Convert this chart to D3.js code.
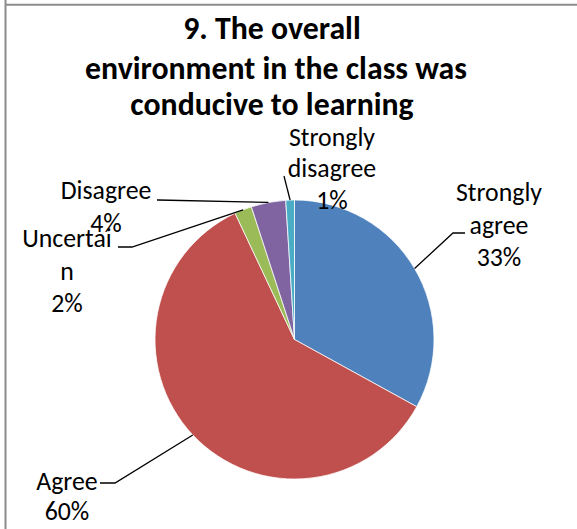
<!DOCTYPE html>
<html>
<head>
<meta charset="utf-8">
<script src="https://cdn.jsdelivr.net/npm/d3@7/dist/d3.min.js"></script>
<style>
  html, body { margin: 0; padding: 0; background: #fff; }
  svg { display: block; }
</style>
</head>
<body>
<script>
// ---- data ----
const titleLines = ["9. The overall", "environment in the class was", "conducive to learning"];
const categories = ["Strongly agree", "Agree", "Uncertain", "Disagree", "Strongly disagree"];
const values = [33, 60, 2, 4, 1];
const labelLines = [["Strongly", "agree"], ["Agree"], ["Uncertai", "n"], ["Disagree"], ["Strongly", "disagree"]];
const colors = ["#4F81BD", "#C0504D", "#9BBB59", "#8064A2", "#4BACC6"];

// ---- layout ----
const W = 577, H = 529;
const cx = 294.5, cy = 339.5, R = 139.5;
const FONT = "Carlito, Calibri, Lato, sans-serif";
const titleLayout = [{x: 272, y: 39}, {x: 276, y: 78.5}, {x: 272, y: 115}];
// label centre x, first baseline y, leader elbow and end points
const labelLayout = [
  {x: 499, y: 201, lh: 32.5, elbow: [453, 233], end: [465, 233]},
  {x: 67,  y: 490, lh: 30,   elbow: [115, 483], end: [100, 483]},
  {x: 67,  y: 247, lh: 32.5, elbow: [132, 247], end: [118, 247]},
  {x: 106, y: 199, lh: 33,   elbow: [158, 200], end: [157, 200]},
  {x: 332, y: 145.5, lh: 31.5, elbow: [284, 176], end: [284, 176]}
];

const svg = d3.select("body").append("svg").attr("width", W).attr("height", H);

// frame lines
svg.append("line").attr("x1", 5.5).attr("x2", 5.5).attr("y1", 0).attr("y2", H)
  .attr("stroke", "#8c8c8c").attr("stroke-width", 2);
svg.append("line").attr("x1", 5).attr("x2", W).attr("y1", 4.8).attr("y2", 4.8)
  .attr("stroke", "#8c8c8c").attr("stroke-width", 2);

// title
svg.append("g").selectAll("text").data(titleLines).join("text")
  .attr("x", (d, i) => titleLayout[i].x).attr("y", (d, i) => titleLayout[i].y)
  .attr("text-anchor", "middle").attr("font-family", FONT).attr("font-weight", "bold")
  .attr("font-size", 31.8).attr("fill", "#000").text(d => d);

// pie
const total = d3.sum(values);
const pie = d3.pie().sort(null).value(d => d)(values);
const arc = d3.arc().innerRadius(0).outerRadius(R);
const g = svg.append("g").attr("transform", `translate(${cx},${cy})`);
g.selectAll("path").data(pie).join("path")
  .attr("d", arc).attr("fill", (d, i) => colors[i])
  .attr("stroke", "#fff").attr("stroke-width", 0.75);

// leader lines
const pct = d3.format(".0%");
pie.forEach((d, i) => {
  const a = (d.startAngle + d.endAngle) / 2;
  const p0 = [cx + R * Math.sin(a), cy - R * Math.cos(a)];
  const L = labelLayout[i];
  svg.append("polyline")
    .attr("points", [p0, L.elbow, L.end].map(p => p.join(",")).join(" "))
    .attr("fill", "none").attr("stroke", "#000").attr("stroke-width", 1.3);
});

// labels
pie.forEach((d, i) => {
  const L = labelLayout[i];
  const lines = labelLines[i].concat([pct(values[i] / total)]);
  const t = svg.append("text").attr("text-anchor", "middle")
    .attr("font-family", FONT).attr("font-size", 25.8).attr("fill", "#000");
  lines.forEach((s, j) => {
    t.append("tspan").attr("x", L.x).attr("y", L.y + j * L.lh).text(s);
  });
});
</script>
</body>
</html>
